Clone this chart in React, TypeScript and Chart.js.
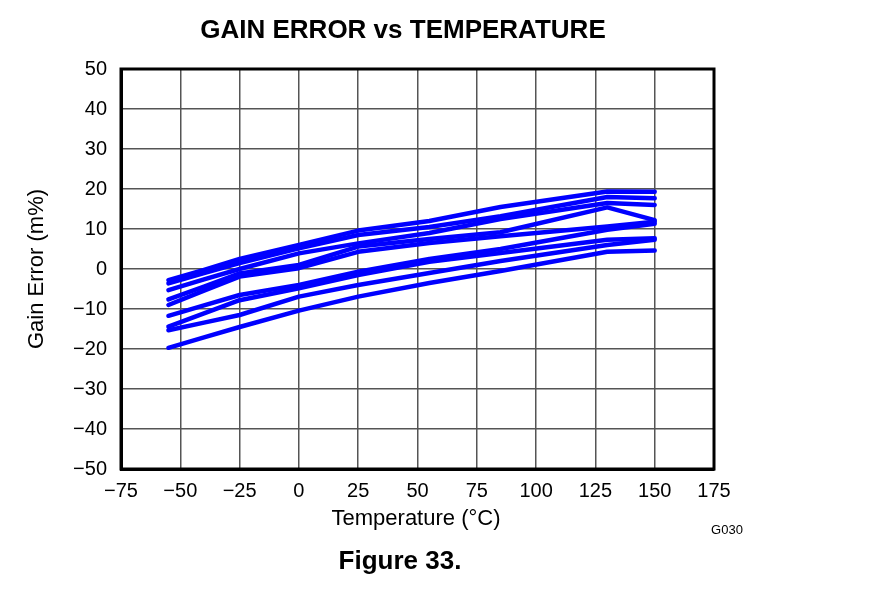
import React, { useEffect, useRef } from "react";
import { Chart, registerables } from "chart.js";

Chart.register(...registerables);

const temps = [-55, -40, -25, 0, 25, 55, 85, 130, 150];

const unit1 = [-2.8, -0.2, 2.5, 6.0, 9.6, 12.0, 15.5, 19.4, 19.3];
const unit2 = [-3.6, -1.0, 1.5, 5.2, 8.5, 10.5, 13.2, 18.0, 17.7];
const unit3 = [-5.3, -2.6, 0.0, 3.9, 6.4, 9.0, 12.5, 16.5, 16.0];
const unit4 = [-7.6, -4.4, -1.1, 1.0, 5.6, 7.5, 9.2, 15.4, 12.2];
const unit5 = [-9.0, -5.4, -1.9, 0.2, 4.3, 6.5, 8.2, 10.6, 11.8];
const unit6 = [-11.7, -9.1, -6.5, -4.0, -0.7, 2.5, 5.0, 9.8, 11.3];
const unit7 = [-14.4, -11.1, -7.8, -4.8, -1.5, 1.8, 4.0, 7.3, 7.7];
const unit8 = [-15.3, -13.4, -11.5, -6.9, -4.0, -1.0, 2.0, 6.0, 7.3];
const unit9 = [-19.7, -17.1, -14.5, -10.4, -6.9, -3.5, -0.5, 4.3, 4.6];

const allUnits = [unit1, unit2, unit3, unit4, unit5, unit6, unit7, unit8, unit9];

const xTickMin = -75;
const xTickMax = 175;
const xTickStep = 25;
const yTickMin = -50;
const yTickMax = 50;
const yTickStep = 10;

const titleText = "GAIN ERROR vs TEMPERATURE";
const xAxisTitle = "Temperature (°C)";
const yAxisTitle = "Gain Error (m%)";
const figureText = "Figure 33.";
const codeText = "G030";

const FONT = "'Liberation Sans', Arial, sans-serif";

const minus = (v: number) => String(v).replace("-", "\u2212");

const textPlugin = {
  id: "textPlugin",
  afterDraw(chart: any) {
    const { ctx, chartArea } = chart;
    const { left, right, top, bottom } = chartArea;
    ctx.save();
    ctx.strokeStyle = "#000";
    ctx.lineWidth = 3;
    ctx.strokeRect(left, top, right - left, bottom - top);

    ctx.fillStyle = "#000";
    ctx.textAlign = "center";
    ctx.textBaseline = "middle";
    ctx.font = `bold 26px ${FONT}`;
    ctx.fillText(titleText, 403, 31);

    ctx.font = `22px ${FONT}`;
    ctx.fillText(xAxisTitle, 416, 519);

    ctx.font = `bold 26px ${FONT}`;
    ctx.fillText(figureText, 400, 562);

    ctx.font = `13px ${FONT}`;
    ctx.fillText(codeText, 727, 530);

    ctx.translate(37, 269);
    ctx.rotate(-Math.PI / 2);
    ctx.font = `22px ${FONT}`;
    ctx.fillText(yAxisTitle, 0, 0);
    ctx.restore();
  },
};

export default function App() {
  const ref = useRef<HTMLCanvasElement | null>(null);

  useEffect(() => {
    if (!ref.current) return;
    const datasets = allUnits.map((u, i) => ({
      label: `Unit ${i + 1}`,
      data: temps.map((t, j) => ({ x: t, y: u[j] })),
      borderColor: "#0000FF",
      backgroundColor: "#0000FF",
      borderWidth: 4.5,
      pointRadius: 0,
      tension: 0,
      fill: false,
      borderCapStyle: "round" as const,
      borderJoinStyle: "round" as const,
    }));
    const chart = new Chart(ref.current, {
      type: "line",
      data: { datasets },
      options: {
        animation: false,
        responsive: false,
        devicePixelRatio: 1,
        layout: { padding: { top: 69, right: 159, left: 0, bottom: 0 } },
        plugins: {
          legend: { display: false },
          title: { display: false },
          tooltip: { enabled: false },
        },
        scales: {
          x: {
            type: "linear",
            min: xTickMin,
            max: xTickMax,
            afterFit: (s: any) => {
              s.height = 131;
            },
            ticks: {
              stepSize: xTickStep,
              color: "#000",
              font: { family: FONT, size: 20 },
              padding: 10,
              callback: (v: any) => minus(Number(v)),
              maxRotation: 0,
            },
            grid: { color: "#555", lineWidth: 1.5, drawTicks: false },
            border: { display: true, color: "#000", width: 3 },
          },
          y: {
            type: "linear",
            min: yTickMin,
            max: yTickMax,
            afterFit: (s: any) => {
              s.width = 121;
            },
            ticks: {
              stepSize: yTickStep,
              color: "#000",
              font: { family: FONT, size: 20 },
              padding: 14,
              callback: (v: any) => minus(Number(v)),
            },
            grid: { color: "#555", lineWidth: 1.5, drawTicks: false },
            border: { display: true, color: "#000", width: 3 },
          },
        },
      },
      plugins: [textPlugin],
    });
    return () => chart.destroy();
  }, []);

  return (
    <div style={{ position: "absolute", left: 0, top: 0, width: 873, height: 600, background: "#fff" }}>
      <canvas ref={ref} width={873} height={600} style={{ width: 873, height: 600, display: "block" }} />
    </div>
  );
}
